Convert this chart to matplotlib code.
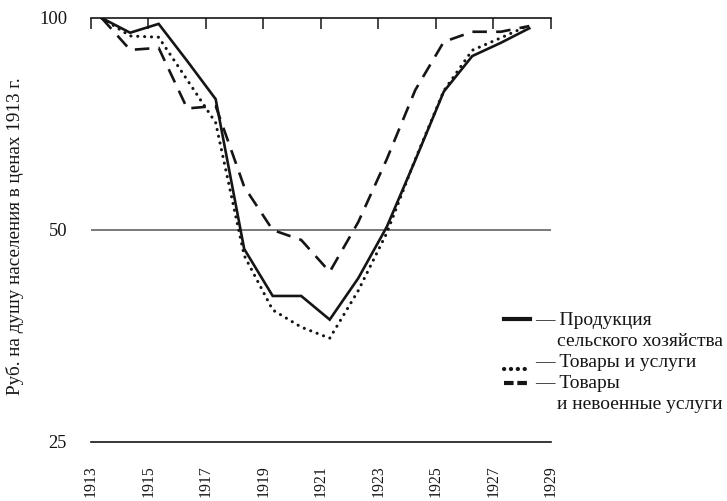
import numpy as np
import matplotlib
matplotlib.use("Agg")
import matplotlib.pyplot as plt
from matplotlib.lines import Line2D

plt.rcParams['font.family'] = ['Liberation Serif', 'DejaVu Serif']

years = [1913, 1914, 1915, 1916, 1917, 1918, 1919, 1920,
         1921, 1922, 1923, 1924, 1925, 1926, 1927, 1928]
agri = [100, 95.3, 98.1, 86.9, 76.7, 47.0, 40.3, 40.3,
        37.3, 42.7, 50.5, 62.8, 78.6, 88.3, 92.2, 96.7]
goods_services = [100, 94.3, 93.9, 81.7, 71.0, 46.0, 38.5, 36.4,
                  35.1, 41.0, 49.5, 63.0, 78.8, 90.0, 93.7, 97.7]
goods_civil = [100, 90.1, 90.7, 74.4, 75.0, 57.6, 50.0, 48.4,
               43.6, 51.3, 63.0, 79.0, 92.5, 95.6, 95.6, 97.4]

xticks = [1913, 1915, 1917, 1919, 1921, 1923, 1925, 1927, 1929]
yticks = [25, 50, 100]
ylabel = "Руб. на душу населения в ценах 1913 г."
legend_lines = [
    ("— Продукция", "сельского хозяйства"),
    ("— Товары и услуги", None),
    ("— Товары", "и невоенные услуги"),
]

W, H = 727, 501
fig = plt.figure(figsize=(W / 100, H / 100), dpi=100)
ax = fig.add_axes([90.7 / W, 1 - 442 / H, (551 - 90.7) / W, (442 - 18) / H])

# data points sit slightly right of each year tick
xpos = 1913.38 + (np.array(years) - 1913) * 0.991

ink = '#151515'
lw = 1.9
ax.plot(xpos, agri, color=ink, lw=lw, solid_joinstyle='miter', zorder=3)
ax.plot(xpos, goods_services, color=ink, lw=2.2, linestyle=(0, (0.05, 2.2)),
        dash_capstyle='round', zorder=3)
ax.plot(xpos, goods_civil, color=ink, lw=lw, linestyle=(0, (5.5, 3.5)),
        zorder=3)

ax.set_yscale('log')
ax.set_ylim(25, 100)
ax.set_xlim(1913, 1929)
ax.set_yticks(yticks)
ax.set_yticklabels([str(v) for v in yticks])
ax.yaxis.set_minor_locator(matplotlib.ticker.NullLocator())
ax.set_xticks(xticks)
ax.set_xticklabels([str(v) for v in xticks], rotation=90)

ax.axhline(50, color='#6e6e6e', lw=1.3, zorder=1)

for s in ['left', 'right']:
    ax.spines[s].set_visible(False)
ax.spines['top'].set_color(ink)
ax.spines['top'].set_linewidth(1.2)
ax.spines['bottom'].set_color(ink)
ax.spines['bottom'].set_linewidth(1.2)

ax.tick_params(axis='x', top=True, bottom=False, labeltop=False, labelbottom=True,
               direction='in', length=8, width=1.1, color=ink,
               pad=17, labelsize=11.3, labelcolor=ink)
ax.tick_params(axis='y', left=False, right=False, length=0, pad=17,
               labelsize=13.3, labelcolor=ink)
for lab in ax.get_xticklabels():
    lab.set_va('top')

fig.text(15 / W, 1 - 236 / H, ylabel, rotation=90, ha='center', va='center',
         fontsize=13.8, color=ink)

# legend drawn by hand
def fy(y):
    return 1 - y / H

samples = [
    dict(linestyle='-', lw=3.0),
    dict(linestyle=(0, (0.05, 1.6)), dash_capstyle='round', lw=3.0),
    dict(linestyle=(0, (2.3, 0.9)), lw=3.0),
]
sample_y = [319, 369, 383]
baselines = [(325, 346), (367, None), (388, 409)]
for (t1, t2), st, sy, (b1, b2) in zip(legend_lines, samples, sample_y, baselines):
    fig.add_artist(Line2D([504 / W, 530 / W], [fy(sy), fy(sy)], color=ink, **st))
    fig.text(535 / W, fy(b1), t1, ha='left', va='baseline', fontsize=14,
             color=ink)
    if t2:
        fig.text(557 / W, fy(b2), t2, ha='left', va='baseline', fontsize=14,
                 color=ink)

fig.savefig("out.png", dpi=100)
